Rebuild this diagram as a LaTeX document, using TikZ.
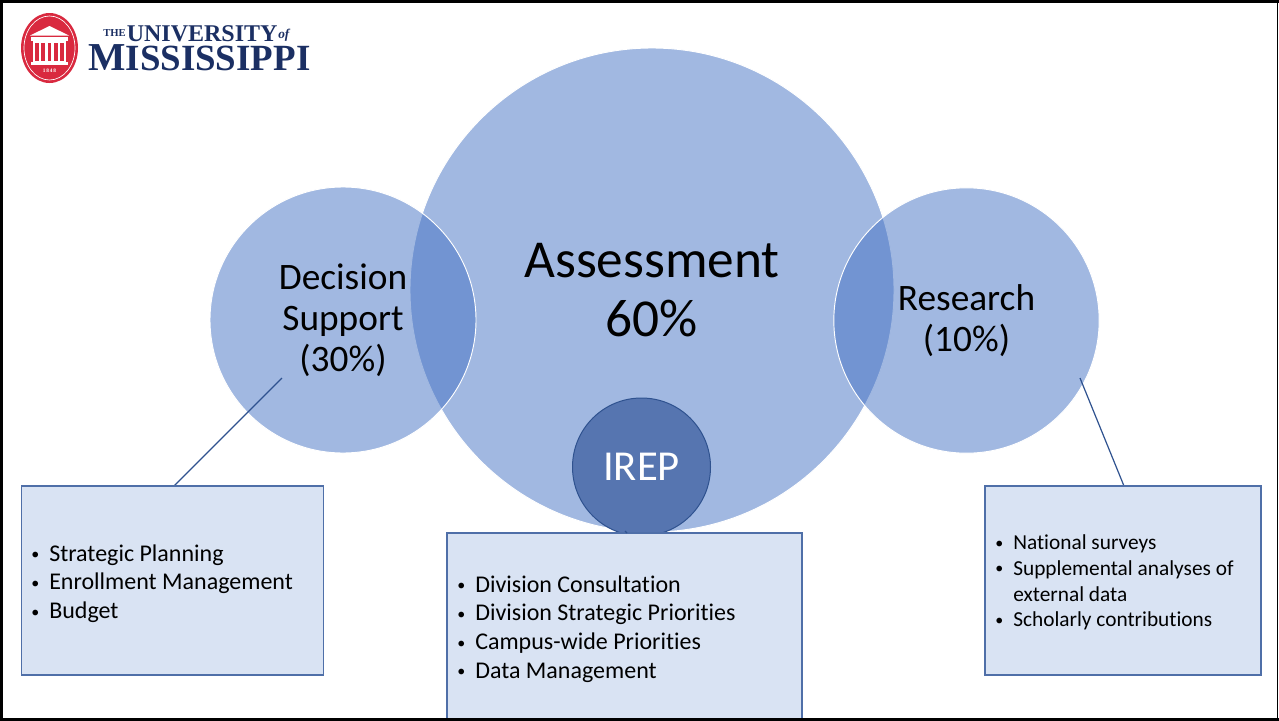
\documentclass[tikz,border=0pt]{standalone}
\usepackage{fontspec}
\setmainfont[Ligatures=NoCommon]{Carlito}
\newfontfamily\logofont{Liberation Serif}
\definecolor{bluefill}{HTML}{4472C4}
\definecolor{irepfill}{HTML}{5675B0}
\definecolor{edgeblue}{HTML}{2F528F}
\definecolor{boxfill}{HTML}{D9E3F3}
\definecolor{boxedge}{HTML}{4F6FA8}
\definecolor{olered}{HTML}{D9293F}
\definecolor{olenavy}{HTML}{1B2F63}
\newcommand{\lst}[2]{\fontsize{#1}{#2}\selectfont\begin{tabular}{@{}l@{}l@{}}}
\newcommand{\blt}{\makebox[13.5pt][l]{\raisebox{1pt}{\fontsize{12}{12}\selectfont\textbullet}}}
\tikzset{
  x=0.75pt,y=-0.75pt,
  blob/.style={circle,inner sep=0pt,fill=bluefill,fill opacity=.5,text opacity=1,draw=white,line width=.7pt,align=center},
  listbox/.style={rectangle,inner sep=0pt,fill=boxfill,draw=boxedge,line width=.9pt},
  link/.style={draw=edgeblue,line width=.9pt},
  listtext/.style={anchor=west,inner sep=0pt,text=black},
  bigtext/.style={inner sep=0pt,align=center,text=black},
  logotext/.style={anchor=base west,inner sep=0pt,text=olenavy}
}
\begin{document}
\begin{tikzpicture}
\useasboundingbox (0,0) rectangle (1279,721);
\fill[white] (0,0) rectangle (1279,721);
% circles
\node[blob,minimum size=363pt] (assess) at (652,290) {};
\node[blob,minimum size=199.5pt] (decision) at (343,320) {};
\node[blob,minimum size=199pt] (research) at (966.5,320.5) {};
% connectors
\coordinate (dstart) at (282,378);
\coordinate (rstart) at (1080,378);
\coordinate (dend) at (174,486);
\coordinate (rend) at (1124,486);
\coordinate (istart) at (625,531);
\coordinate (iend) at (627,533);
\draw[link] (dstart) -- (dend);
\draw[link] (rstart) -- (rend);
% IREP circle lies under the middle box
\node[circle,inner sep=0pt,minimum size=103.5pt,fill=irepfill,draw=edgeblue,line width=.75pt,text=white,font=\fontsize{32}{38}\selectfont] (irep) at (641.5,467) {IREP};
% boxes
\node[listbox,minimum width=226.5pt,minimum height=141.75pt] (dbox) at (172.5,580.5) {};
\node[listbox,minimum width=266.25pt,minimum height=141pt] (mbox) at (624.5,627) {};
\node[listbox,minimum width=207pt,minimum height=141.75pt] (rbox) at (1123,580.5) {};
\draw[link] (istart) -- (iend);
% circle labels
\node[bigtext,font=\fontsize{40}{44.5}\selectfont] (assesslabel) at (652,290) {Assessment\\60\%};
\node[bigtext,font=\fontsize{28}{30.6}\selectfont] (decisionlabel) at (343,320.5) {Decision\\Support\\(30\%)};
\node[bigtext,font=\fontsize{28}{30.5}\selectfont] (researchlabel) at (966.5,320.5) {Research\\(10\%)};
% list labels
\node[listtext] (dlist) at (31,584) {\lst{18}{21.5}\blt & Strategic Planning\\ \blt & Enrollment Management\\ \blt & Budget\end{tabular}};
\node[listtext] (mlist) at (457,629.5) {\lst{18}{21.5}\blt & Division Consultation\\ \blt & Division Strategic Priorities\\ \blt & Campus-wide Priorities\\ \blt & Data Management\end{tabular}};
\node[listtext] (rlist) at (995,583) {\lst{16}{19.3}\blt & National surveys\\ \blt & Supplemental analyses of\\ & external data\\ \blt & Scholarly contributions\end{tabular}};
% logo
\fill[olered] (49.5,48) ellipse [x radius=28.5,y radius=35];
\draw[white,line width=.5pt] (49.5,48) ellipse [x radius=25.5,y radius=32];
\fill[white] (30,35.5) -- (49.5,26) -- (69,35.5) -- cycle;
\fill[white] (31,37) rectangle (68,41);
\fill[white] (33,41) rectangle (66,65);
\fill[white] (31,62) rectangle (68,65);
\foreach \cx in {37,43,49.5,56,62} \fill[olered] (\cx-1.6,43) rectangle (\cx+1.6,60.5);
\node[inner sep=0pt,text=white,font=\logofont\bfseries\fontsize{4}{4}\selectfont] (seal) at (49.5,71) {1\,8\,4\,8};
\node[logotext,font=\logofont\bfseries\fontsize{8}{9}\selectfont] (the) at (103,36.5) {THE};
\node[logotext,font=\logofont\bfseries\fontsize{18}{20}\selectfont] (univ) at (126.5,41) {UNIVERSITY};
\node[logotext,font=\logofont\bfseries\itshape\fontsize{10}{11}\selectfont] (of) at (278,38) {of};
\node[logotext,font=\logofont\bfseries\fontsize{29.7}{32}\selectfont] (miss) at (88,70) {M\fontsize{27.7}{32}\selectfont ISSISSIPPI};
% frame
\fill[black] (0,0) rectangle (1279,2.5);
\fill[black] (0,0) rectangle (3,721);
\fill[black] (0,717.5) rectangle (1279,721);
\fill[black] (1276.5,0) rectangle (1278,721);
\end{tikzpicture}
\end{document}
